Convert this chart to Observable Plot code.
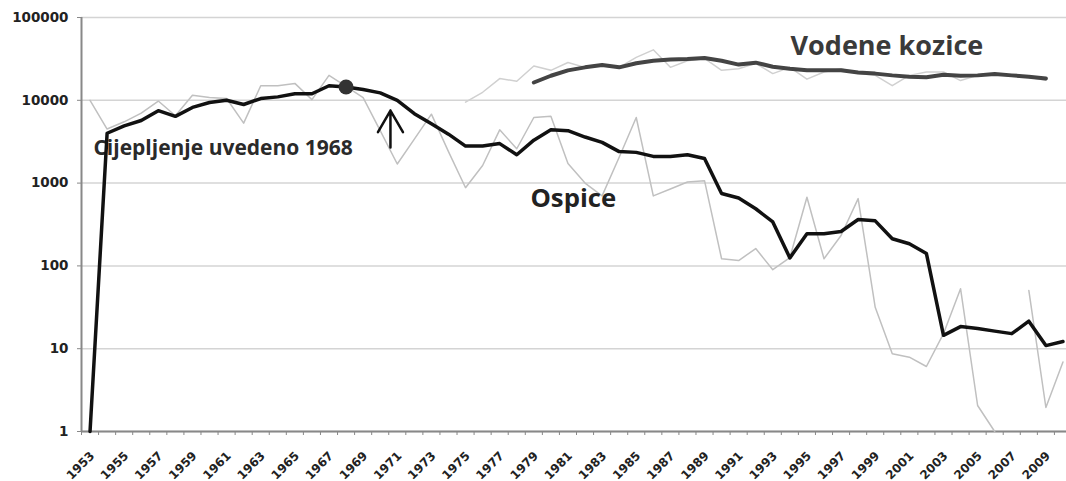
<!DOCTYPE html>
<html><head><meta charset="utf-8">
<script src="https://cdn.jsdelivr.net/npm/d3@7"></script>
<script src="https://cdn.jsdelivr.net/npm/@observablehq/plot@0.6"></script>
<style>body{margin:0;background:#fff;}</style>
</head><body><div id="chart"></div>
<script>
// ---- data ----
const years = d3.range(1953, 2011);
const ospiceAnnual = [10000, 4500, 5500, 7000, 9800, 6500, 11500, 10800, 10500, 5300,
  15000, 15000, 16000, 10200, 20000, 14700, 10800, 4300, 1700, 3400,
  6800, 2400, 880, 1630, 4400, 2600, 6200, 6400, 1720, 1000,
  700, 2050, 6200, 700, 850, 1030, 1070, 122, 116, 162,
  90, 126, 675, 122, 233, 650, 31.6, 8.7, 7.9, 6.1,
  15.2, 53, 2.06, 1, null, 50.6, 1.95, 6.9];
const ospiceTrend = [1, 4000, 4900, 5700, 7500, 6400, 8200, 9400, 10000, 8900,
  10500, 11000, 12000, 12000, 15000, 14500, 13500, 12300, 10000, 6900,
  5200, 3900, 2800, 2800, 3000, 2200, 3300, 4400, 4300, 3600,
  3100, 2400, 2350, 2100, 2100, 2200, 1980, 750, 660, 490,
  340, 125, 244, 244, 260, 363, 350, 213, 185, 141,
  14.5, 18.5, 17.5, 16.3, 15.2, 21.5, 10.9, 12.2];
const kozAnnualYears = d3.range(1975, 2010);
const kozAnnual = [9500, 12500, 18300, 17000, 26000, 23000, 28600, 25000, 27000, 25000,
  33000, 40700, 25000, 30000, 32000, 23000, 24000, 28000, 21000, 25000,
  18000, 22000, 24000, 21000, 20000, 15000, 20000, 22000, 22000, 17300,
  20000, 21000, 19500, 19000, 17500];
const kozTrendYears = d3.range(1979, 2010);
const kozTrend = [16400, 19800, 23000, 25000, 26700, 25000, 28000, 30000, 31000, 31500,
  32500, 30000, 27000, 28500, 25400, 24000, 23000, 23000, 23000, 21700,
  21000, 20000, 19300, 19000, 20300, 19800, 20000, 20800, 20000, 19300, 18300];
const yTicks = [1, 10, 100, 1000, 10000, 100000];
const xLabelYears = d3.range(1953, 2010, 2);
const xBoundaries = d3.range(1952.5, 2011, 1);
const vaccineYear = [{year: 1968, value: 14500}];
const arrowAnn = [{year: 1970.6, value: 2690}];
const labels = {
  vodene: {text: "Vodene kozice", year: 1994.04, value: 44200},
  ospice: {text: "Ospice", year: 1978.8, value: 643},
  cijep: {text: "Cijepljenje uvedeno 1968", year: 1953.2, value: 2670}
};

const rows = (ys, vs) => ys.map((y, i) => ({year: y, value: vs[i]}));
const arrowShape = {
  draw(context, l) {
    context.moveTo(0, 0);
    context.lineTo(0, -l);
    context.moveTo(-12.5, -l + 21.7);
    context.lineTo(0, -l);
    context.lineTo(12.5, -l + 21.7);
  }
};
const annFont = "Open Sans";

const chart = Plot.plot({
  width: 1066,
  height: 481,
  marginLeft: 81,
  marginRight: 0,
  marginTop: 17,
  marginBottom: 50,
  x: {type: "linear", domain: [1952.5, 2010.5], range: [81, 1071]},
  y: {type: "log", domain: [1, 100000], range: [431, 17]},
  style: {fontFamily: "DejaVu Sans", background: "#fff", overflow: "hidden"},
  marks: [
    Plot.ruleY(yTicks, {stroke: "#d4d4d4", strokeWidth: 1.5}),
    Plot.axisY({ticks: yTicks, tickFormat: d => String(d), tickSize: 4, tickPadding: 9,
      fontSize: 13.5, fontWeight: "bold", stroke: "#888", fill: "#222", label: null}),
    Plot.axisX({ticks: xBoundaries, tickSize: 4, tickFormat: () => "", stroke: "#888", label: null}),
    Plot.text(xLabelYears, {x: d => d, y: 1, text: d => String(d), rotate: -45,
      textAnchor: "end", lineAnchor: "top", dx: -1, dy: 19,
      fontSize: 12, fontWeight: "bold", fill: "#222"}),
    Plot.ruleX([1952.5], {y1: 1, y2: 100000, stroke: "#888", strokeWidth: 2}),
    Plot.ruleY([1], {stroke: "#888", strokeWidth: 2}),
    Plot.line(rows(years, ospiceAnnual), {x: "year", y: "value", stroke: "#c0c0c0", strokeWidth: 1.5}),
    Plot.line(rows(kozAnnualYears, kozAnnual), {x: "year", y: "value", stroke: "#d0d0d0", strokeWidth: 1.5}),
    Plot.text([labels.cijep], {x: "year", y: "value", text: "text", textAnchor: "start", lineAnchor: "middle",
      fontSize: 21, fontWeight: "bold", fontFamily: annFont, fill: "#2a2a2a"}),
    Plot.text([labels.ospice], {x: "year", y: "value", text: "text", textAnchor: "start", lineAnchor: "middle",
      fontSize: 25.7, fontWeight: "bold", fontFamily: annFont, fill: "#222"}),
    Plot.text([labels.vodene], {x: "year", y: "value", text: "text", textAnchor: "start", lineAnchor: "middle",
      fontSize: 27, fontWeight: "bold", fontFamily: annFont, fill: "#3a3a3a"}),
    Plot.line(rows(years, ospiceTrend), {x: "year", y: "value", stroke: "#111", strokeWidth: 3.5, strokeLinejoin: "round"}),
    Plot.line(rows(kozTrendYears, kozTrend), {x: "year", y: "value", stroke: "#444", strokeWidth: 4, strokeLinejoin: "round"}),
    Plot.dot(vaccineYear, {x: "year", y: "value", r: 7.5, fill: "#333"}),
    Plot.vector(arrowAnn, {x: "year", y: "value", length: 37, rotate: 0, anchor: "start",
      shape: arrowShape, stroke: "#111", strokeWidth: 2.5})
  ]
});
document.getElementById("chart").appendChild(chart);
</script>
</body></html>
